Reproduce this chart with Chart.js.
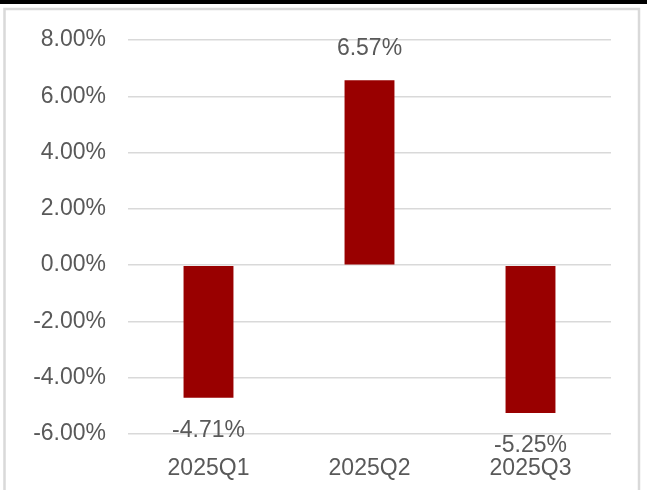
<!DOCTYPE html>
<html>
<head>
<meta charset="utf-8">
<script src="https://cdn.jsdelivr.net/npm/chart.js@4.4.0/dist/chart.umd.min.js"></script>
<style>
html,body{margin:0;padding:0;background:#fff;}
canvas{display:block;}
</style>
</head>
<body>
<canvas id="c" width="647" height="490"></canvas>
<script>
const categories = ['2025Q1', '2025Q2', '2025Q3'];
const values = [-4.71, 6.57, -5.25];
const valueLabels = ['-4.71%', '6.57%', '-5.25%'];
const yTicks = [-6, -4, -2, 0, 2, 4, 6, 8];
const yTickLabels = ['-6.00%', '-4.00%', '-2.00%', '0.00%', '2.00%', '4.00%', '6.00%', '8.00%'];

const FONT = "'Liberation Sans', Arial, sans-serif";
const TEXT = '#595959';

const framePlugin = {
  id: 'frame',
  beforeDraw(chart) {
    const ctx = chart.ctx;
    ctx.save();
    ctx.fillStyle = '#fff';
    ctx.fillRect(0, 0, chart.width, chart.height);
    ctx.fillStyle = '#000';
    ctx.fillRect(0, 0, chart.width, 4);
    ctx.strokeStyle = '#d9d9d9';
    ctx.lineWidth = 2.5;
    ctx.beginPath();
    ctx.moveTo(4.5, chart.height + 5);
    ctx.lineTo(4.5, 9);
    ctx.lineTo(639, 9);
    ctx.lineTo(639, chart.height + 5);
    ctx.stroke();
    ctx.restore();
  }
};

const labelPlugin = {
  id: 'valueLabels',
  afterDatasetsDraw(chart) {
    const ctx = chart.ctx;
    const meta = chart.getDatasetMeta(0);
    ctx.save();
    ctx.font = "23px " + FONT;
    ctx.fillStyle = TEXT;
    ctx.textAlign = 'center';
    ctx.textBaseline = 'middle';
    meta.data.forEach((bar, i) => {
      const v = values[i];
      const y = v >= 0 ? bar.y - 32 : bar.y + 33;
      ctx.fillText(valueLabels[i], bar.x, y);
    });
    ctx.restore();
  }
};

new Chart(document.getElementById('c'), {
  type: 'bar',
  data: {
    labels: categories,
    datasets: [{
      data: values,
      backgroundColor: '#990000',
      borderWidth: 0,
      categoryPercentage: 1,
      barPercentage: 0.31
    }]
  },
  options: {
    responsive: false,
    animation: false,
    layout: { padding: { left: 0, right: 36, top: 40, bottom: 0 } },
    plugins: { legend: { display: false }, tooltip: { enabled: false } },
    scales: {
      x: {
        grid: { display: false },
        border: { display: false },
        ticks: { color: TEXT, font: { family: FONT, size: 23 }, padding: 13 },
        afterFit(scale) { scale.height = 56; }
      },
      y: {
        min: -6, max: 8,
        grid: { color: '#d9d9d9', lineWidth: 1.5, drawTicks: false },
        border: { display: false },
        ticks: {
          stepSize: 2,
          color: TEXT,
          font: { family: FONT, size: 23 },
          padding: 22,
          callback: (v) => { const i = yTicks.indexOf(v); return i >= 0 ? yTickLabels[i] : ''; }
        },
        afterFit(scale) { scale.width = 128; }
      }
    }
  },
  plugins: [framePlugin, labelPlugin]
});
</script>
</body>
</html>
